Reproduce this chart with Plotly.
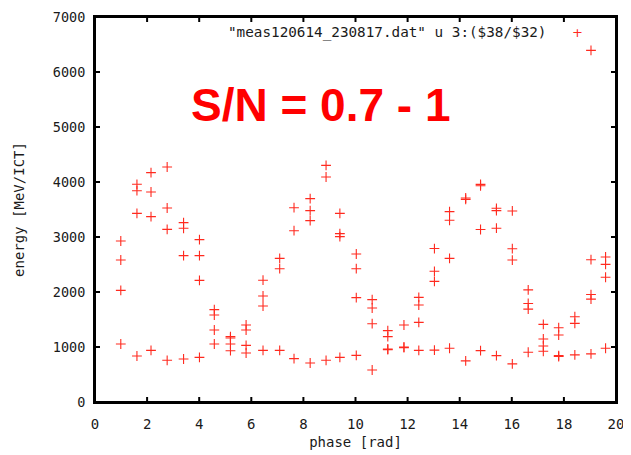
import plotly.graph_objects as go

# phase [rad] of each measurement point
phase = (
    [0.99] * 4 + [1.61] * 4 + [2.15] * 4 + [2.77] * 4 + [3.40] * 4 + [4.01] * 4 +
    [4.58] * 4 + [5.20] * 4 + [5.80] * 4 + [6.45] * 4 + [7.09] * 3 + [7.64] * 3 +
    [8.26] * 4 + [8.87] * 3 + [9.40] * 4 + [10.03] * 4 + [10.64] * 4 + [11.24] * 4 +
    [11.86] * 3 + [12.43] * 4 + [13.03] * 4 + [13.61] * 4 + [14.23] * 3 + [14.80] * 4 +
    [15.41] * 4 + [16.02] * 4 + [16.63] * 4 + [17.21] * 4 + [17.80] * 4 + [18.42] * 3 +
    [19.04] * 5 + [19.60] * 4
)

# energy [MeV/ICT]
energy = [
    2927, 2582, 2030, 1055,
    3958, 3842, 3430, 836,
    4170, 3818, 3370, 939,
    4273, 3527, 3139, 758,
    3261, 3158, 2661, 782,
    2952, 2661, 2212, 812,
    1679, 1582, 1309, 1055,
    1188, 1164, 1055, 933,
    1400, 1309, 1030, 891,
    2215, 1927, 1745, 939,
    2612, 2424, 939,
    3533, 3115, 788,
    3697, 3479, 3297, 709,
    4303, 4091, 758,
    3430, 3061, 3006, 812,
    2691, 2424, 1897, 848,
    1861, 1709, 1424, 582,
    1297, 1188, 964, 952,
    1400, 1000, 988,
    1903, 1764, 1448, 939,
    2790, 2376, 2194, 943,
    3462, 3305, 2612, 977,
    3709, 3685, 748,
    3957, 3932, 3136, 935,
    3522, 3480, 3160, 844,
    3474, 2787, 2581, 694,
    2039, 1791, 1689, 905,
    1411, 1146, 1019, 923,
    1351, 1218, 844, 826,
    1550, 1429, 856,
    6393, 2587, 1954, 1870, 875,
    2636, 2503, 2268, 977,
]

x_ticks = [0, 2, 4, 6, 8, 10, 12, 14, 16, 18, 20]
y_ticks = [0, 1000, 2000, 3000, 4000, 5000, 6000, 7000]
x_range = [0, 20]
y_range = [0, 7000]

series_label = '"meas120614_230817.dat" u 3:($38/$32)'
big_label = "S/N = 0.7 - 1"

RED = "#ff2a1f"
MONO = "DejaVu Sans Mono"
TXT = "#1a1a1a"

W, H = 623, 447
ML, MR, MT, MB = 87, 15, 9, 53
PW, PH = W - ML - MR, H - MT - MB
TICK = 5  # px

fig = go.Figure()
fig.add_trace(go.Scatter(
    x=phase, y=energy, mode="markers",
    marker=dict(symbol="cross-thin", size=7, line=dict(color=RED, width=1.1)),
    showlegend=False, hoverinfo="x+y",
))

# gnuplot-style border box with inward ticks on all four sides,
# built from the axis ranges and tick lists
x0, x1 = x_range
y0, y1 = y_range
tx = TICK / PH * (y1 - y0)   # vertical tick length in data units
ty = TICK / PW * (x1 - x0)   # horizontal tick length in data units
fx = [x0, x1, x1, x0, x0, None]
fy = [y0, y0, y1, y1, y0, None]
for v in x_ticks:
    fx += [v, v, None, v, v, None]
    fy += [y0, y0 + tx, None, y1 - tx, y1, None]
for v in y_ticks:
    fx += [x0, x0 + ty, None, x1 - ty, x1, None]
    fy += [v, v, None, v, v, None]
fig.add_trace(go.Scatter(
    x=fx, y=fy, mode="lines", line=dict(color="#000000", width=2),
    cliponaxis=False, showlegend=False, hoverinfo="skip",
))

axis_common = dict(
    showline=True, linecolor="#000000", linewidth=2, mirror=True,
    ticks="outside", tickwidth=1, tickcolor="rgba(0,0,0,0)",
    showgrid=False, zeroline=False,
)

fig.update_xaxes(
    range=x_range, tickvals=x_ticks, ticktext=[str(v) for v in x_ticks],
    ticklen=8,
    tickfont=dict(family=MONO, size=14, color=TXT),
    title=dict(text="phase [rad]", font=dict(family=MONO, size=14, color=TXT), standoff=6),
    **axis_common,
)
fig.update_yaxes(
    range=y_range, tickvals=y_ticks, ticktext=[str(v) for v in y_ticks],
    ticklen=5,
    tickfont=dict(family=MONO, size=13.5, color=TXT),
    title=dict(text="energy [MeV/ICT]", font=dict(family=MONO, size=14, color=TXT), standoff=25),
    **axis_common,
)

# frame drawn as a paper-referenced rectangle as well
fig.add_shape(type="rect", xref="paper", yref="paper", x0=0, x1=1, y0=0, y1=1,
              line=dict(color="#000000", width=2), layer="above")

fig.add_annotation(
    xref="paper", yref="paper", x=0.869, y=0.96, xanchor="right", yanchor="middle",
    text=series_label, showarrow=False,
    font=dict(family=MONO, size=14.3, color=TXT),
)
fig.add_annotation(
    xref="paper", yref="paper", x=0.926, y=0.96, xanchor="center", yanchor="middle",
    text="+", showarrow=False,
    font=dict(family="DejaVu Sans", size=13, color=RED),
)
fig.add_annotation(
    xref="paper", yref="paper", x=0.433, y=0.772, xanchor="center", yanchor="middle",
    text="<b>" + big_label + "</b>", showarrow=False,
    font=dict(family="Liberation Sans", size=46, color="#ff0000"),
)

fig.update_layout(
    width=W, height=H,
    margin=dict(l=ML, r=MR, t=MT, b=MB, autoexpand=False),
    paper_bgcolor="white", plot_bgcolor="white",
)

fig.write_html("out.html")
